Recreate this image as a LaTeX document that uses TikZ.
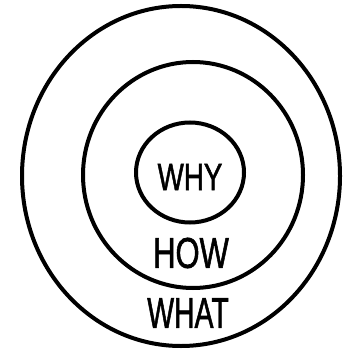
\documentclass[tikz,border=0pt]{standalone}
\usepackage{fontspec}
\setmainfont{Liberation Sans}
\newfontfamily\handfont{Liberation Sans}[FakeBold=1.6]
\begin{document}
\begin{tikzpicture}[x=1pt,y=-1pt,
  ring/.style={line width=4pt,draw=black},
  lbl/.style={inner sep=0pt,anchor=center}]
\useasboundingbox[fill=white] (0,0) rectangle (346,352);
\draw[ring] (181,176) ellipse [x radius=159, y radius=170];
\draw[ring] (193,175) ellipse [x radius=110, y radius=113];
\draw[ring] (190,172.5) ellipse [x radius=54, y radius=50];
\node[lbl,xscale=0.73] (why) at (190,177) {\fontsize{38}{38}\handfont WHY};
\node[lbl,xscale=0.72] (how) at (191,253) {\fontsize{43}{43}\handfont HOW};
\node[lbl,xscale=0.66] (what) at (188,313) {\fontsize{43}{43}\handfont WHAT};
\end{tikzpicture}
\end{document}
